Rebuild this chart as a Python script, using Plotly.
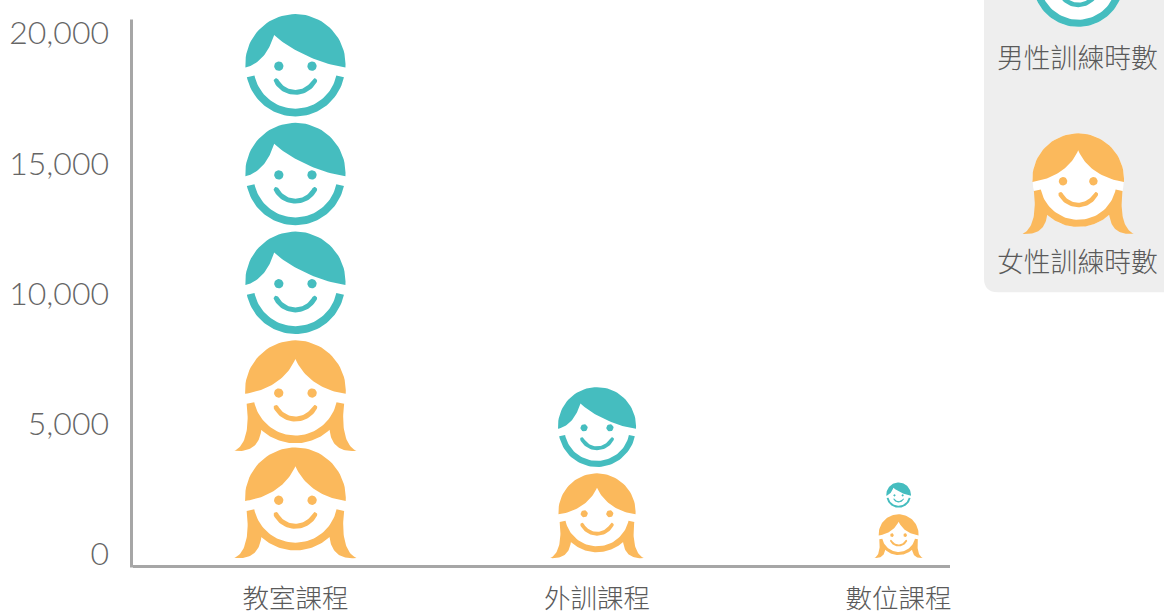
import math
import plotly.graph_objects as go

# Training hours per course type
categories = ["教室課程", "外訓課程", "數位課程"]
female_hours = [8360, 3250, 1680]
male_hours = [12530, 3310, 1220]
series_names = ["女性訓練時數", "男性訓練時數"]
y_ticks = [0, 5000, 10000, 15000, 20000]

TEAL = "#45bdbf"
AMBER = "#fbb95c"
HOURS_PER_ICON = 4200      # one head stands for at most this many hours
GAP_HOURS = 250            # air under each boy's head
FEMALE_PITCH = 0.97        # girls' hair tips tuck in slightly when stacked

W, H = 1164, 612
PLOT_L, PLOT_R, PLOT_T, PLOT_B = 133, 950, 0, 565
PX_PER_Y = 130.2 / 5000
PX_PER_X = 301.6
ZERO_PX = 558
X_RANGE = [(PLOT_L - 295.4) / PX_PER_X, (PLOT_R - 295.4) / PX_PER_X]
Y_RANGE = [(ZERO_PX - PLOT_B) / PX_PER_Y, (ZERO_PX - PLOT_T) / PX_PER_Y]


def arc(cx, cy, r, a0, b0, n=48):
    pts = []
    for i in range(n + 1):
        a = math.radians(a0 + (b0 - a0) * i / n)
        pts.append((cx + r * math.cos(a), cy + r * math.sin(a)))
    return pts


def bezier(p0, p1, p2, p3, n=28):
    pts = []
    for i in range(n + 1):
        t = i / n
        u = 1 - t
        pts.append((
            u**3 * p0[0] + 3 * u * u * t * p1[0] + 3 * u * t * t * p2[0] + t**3 * p3[0],
            u**3 * p0[1] + 3 * u * u * t * p1[1] + 3 * u * t * t * p2[1] + t**3 * p3[1],
        ))
    return pts


def mirror(pts):
    return [(-x, y) for x, y in pts]


HEAD_R = 151
CHIN_Y = 159
CHIN_OUT = 149.5
CHIN_IN = 126


def face_parts(eye_y):
    # Eyes and smile are the same on both heads; y runs down from the crown
    eyes = [arc(sx * 50, eye_y, 14, 0, 360, 24) for sx in (-1, 1)]
    sm_c, sm_r, sm_w, sm_a = 170.4, 65.6, 7.5, 27.8
    smile = arc(0, sm_c, sm_r + sm_w, sm_a, 180 - sm_a, 30)
    ex, ey = -sm_r * math.cos(math.radians(sm_a)), sm_c + sm_r * math.sin(math.radians(sm_a))
    smile += arc(ex, ey, sm_w, 180 - sm_a, 360 - sm_a, 10)
    smile += arc(0, sm_c, sm_r - sm_w, 180 - sm_a, sm_a, 30)
    smile += arc(-ex, ey, sm_w, 180 + sm_a, 360 + sm_a, 10)
    return eyes + [smile]


def male_parts():
    corner = math.degrees(math.asin(10 / HEAD_R))
    hair = arc(0, HEAD_R, HEAD_R, 180 - corner, 360 + corner)
    hair += bezier((151, 161), (70, 150), (-20, 105), (-64, 63))
    hair += bezier((-64, 63), (-75, 100), (-100, 150), (-151, 161))
    chin = arc(0, CHIN_Y, CHIN_OUT, 12, 168) + arc(0, CHIN_Y, CHIN_IN, 168, 12)
    return [hair, chin] + face_parts(157)


def female_parts():
    corner = math.degrees(math.asin(9 / HEAD_R))
    hair = arc(0, HEAD_R, HEAD_R, 180 - corner, 360 + corner)
    hair += bezier((151, 160), (85, 152), (25, 115), (0, 56))
    hair += bezier((0, 56), (-25, 115), (-85, 152), (-151, 160))
    left_edge = bezier((-146, 190), (-138, 250), (-145, 315), (-183, 331))
    left_tip = bezier((-183, 331), (-140, 335), (-108, 320), (-102, 268))
    join = math.degrees(math.atan2(268 - CHIN_Y, 102))
    lower = left_edge + left_tip + arc(0, CHIN_Y, CHIN_OUT, 180 - join, join)
    lower += mirror(left_tip)[::-1] + mirror(left_edge)[::-1]
    lower += arc(0, CHIN_Y, CHIN_IN, 12, 168)
    return [hair, lower] + face_parts(158)


def head_disc():
    # Pale face behind the features, only needed on the grey key panel
    return arc(0, HEAD_R, HEAD_R, 180, 360) + arc(0, CHIN_Y, CHIN_OUT, 0, 180)


def place(parts, cx, top, scale, x_per_y):
    xs, ys = [], []
    for poly in parts:
        xs += [cx + px * scale * x_per_y for px, _ in poly] + [None]
        ys += [top - py * scale for _, py in poly] + [None]
    return xs, ys


MALE_TALL, FEMALE_TALL = 308.0, 331.0
x_per_y = PX_PER_Y / PX_PER_X

fem_x, fem_y, male_x, male_y = [], [], [], []
for i, (f_val, m_val) in enumerate(zip(female_hours, male_hours)):
    # Girls sit on the baseline
    n = math.ceil(f_val / HOURS_PER_ICON)
    tall = f_val / (1 + (n - 1) * FEMALE_PITCH)
    for k in range(n):
        top = tall * (1 + k * FEMALE_PITCH)
        xs, ys = place(female_parts(), i, top, tall / FEMALE_TALL, x_per_y)
        fem_x += xs
        fem_y += ys
    # Boys continue from the top of the girls' stack
    n = math.ceil(m_val / HOURS_PER_ICON)
    slot = m_val / n
    tall = slot - GAP_HOURS
    for k in range(n):
        top = f_val + slot * (k + 1)
        xs, ys = place(male_parts(), i, top, tall / MALE_TALL, x_per_y)
        male_x += xs
        male_y += ys

fig = go.Figure()
fig.add_trace(go.Scatter(x=fem_x, y=fem_y, name=series_names[0], mode="lines", fill="toself",
                         fillcolor=AMBER, line=dict(width=0, color=AMBER),
                         hoverinfo="skip", showlegend=False))
fig.add_trace(go.Scatter(x=male_x, y=male_y, name=series_names[1], mode="lines", fill="toself",
                         fillcolor=TEAL, line=dict(width=0, color=TEAL),
                         hoverinfo="skip", showlegend=False))

# Key panel drawn on a page-sized axis pair of its own
KEY_X, KEY_SCALE = 1078.2, 0.3036
key_items = [(female_parts(), AMBER, 133.3, 260, series_names[0]),
             (male_parts(), TEAL, -66.8, 56, series_names[1])]
for parts, colour, top_px, label_px, label in key_items:
    for polys, fill in (([head_disc()], "#ffffff"), (parts, colour)):
        xs, ys = place(polys, KEY_X, H - top_px, KEY_SCALE, 1)
        fig.add_trace(go.Scatter(x=xs, y=ys, xaxis="x2", yaxis="y2", mode="lines", fill="toself",
                                 fillcolor=fill, line=dict(width=0, color=fill),
                                 hoverinfo="skip", showlegend=False))
    fig.add_annotation(x=KEY_X - 0.4, y=H - label_px, xref="x2", yref="y2", text=label, showarrow=False,
                       font=dict(family="Noto Sans CJK TC", size=26.8, color="#5a5a5a", weight=300),
                       xanchor="center", yanchor="middle")

panel_l, panel_b, radius = 984, H - 292.3, 14
fig.add_shape(type="path", xref="x2", yref="y2", layer="below", line_width=0, fillcolor="#eeeeee",
              path=(f"M {panel_l} {H + 10} L {panel_l} {panel_b + radius} "
                    f"Q {panel_l} {panel_b} {panel_l + radius} {panel_b} "
                    f"L {W + 10} {panel_b} L {W + 10} {H + 10} Z"))

# Vertical axis stroke stops short of the top of the plotting area
fig.add_shape(type="line", xref="paper", yref="paper", line=dict(color="#a6a6a6", width=3),
              x0=131.5 / W, x1=131.5 / W, y0=1 - 567.5 / H, y1=1 - 19.5 / H)

fig.update_layout(
    template="none",
    width=W, height=H, margin=dict(l=0, r=0, t=0, b=0),
    autosize=False, paper_bgcolor="#ffffff", plot_bgcolor="rgba(0,0,0,0)", showlegend=False,
    xaxis=dict(domain=[PLOT_L / W, PLOT_R / W], range=X_RANGE, tickvals=[0, 1, 2], ticktext=categories,
               showgrid=False, zeroline=False, showline=True, linecolor="#a6a6a6", linewidth=3,
               ticks="", ticklabelstandoff=8, anchor="y", automargin=False,
               tickfont=dict(family="Noto Sans CJK TC", size=26.5, color="#5a5a5a", weight=300)),
    yaxis=dict(domain=[1 - PLOT_B / H, 1 - PLOT_T / H], range=Y_RANGE, tickvals=y_ticks,
               tickformat=",d", showgrid=False, zeroline=False, showline=False, anchor="x",
               ticks="", ticklabelstandoff=23, ticklabelshift=-4, automargin=False,
               tickfont=dict(family="Lato", size=32, color="#666666", weight=300)),
    xaxis2=dict(domain=[0, 1], range=[0, W], visible=False, anchor="y2", automargin=False),
    yaxis2=dict(domain=[0, 1], range=[0, H], visible=False, anchor="x2", automargin=False),
)

fig.write_html("out.html", config={"displayModeBar": False})
